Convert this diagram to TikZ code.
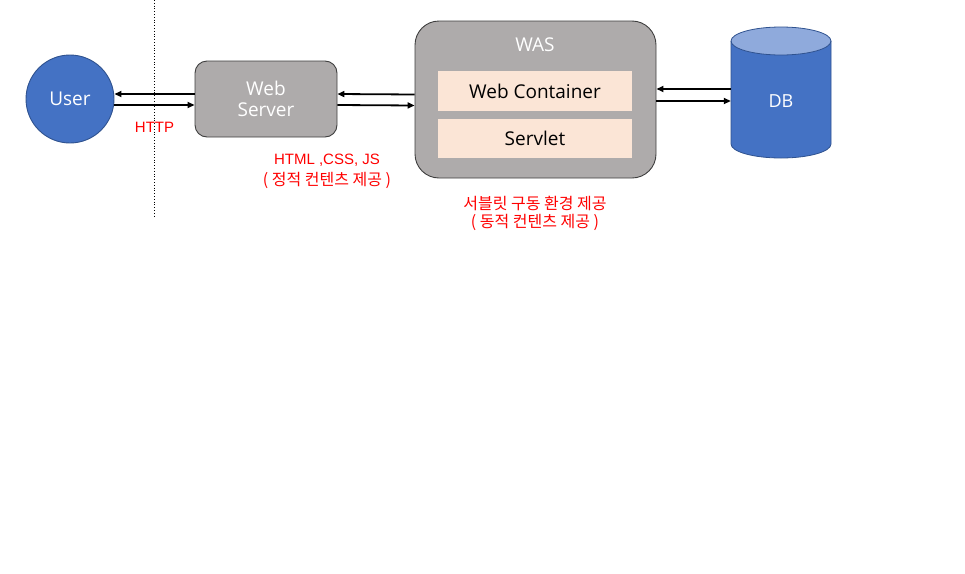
\documentclass[tikz,border=0pt]{standalone}
\usepackage{fontspec}
\setmainfont{Open Sans}
\newfontfamily\krfont{Noto Sans CJK KR}
\newfontfamily\labfont{Liberation Sans}
\usetikzlibrary{arrows.meta}
\definecolor{userblue}{HTML}{4472C4}
\definecolor{userline}{HTML}{2F528F}
\definecolor{boxgray}{HTML}{AEABAB}
\definecolor{boxline}{HTML}{3F3F3F}
\definecolor{inner}{HTML}{FBE5D6}
\definecolor{dbtop}{HTML}{8FAADC}
\tikzset{
  srvbox/.style={draw=boxline,fill=boxgray,line width=0.9pt,text=white,font=\fontsize{19}{22}\selectfont,align=center},
  layer/.style={fill=inner,minimum width=194pt,font=\fontsize{19}{22}\selectfont},
  link/.style={line width=1.8pt,-{Triangle[length=7pt,width=6pt]}},
  note/.style={text=red,inner sep=0pt},
  notelat/.style={note,font=\labfont\fontsize{15}{18}\selectfont},
  noteko/.style={note,font=\krfont\fontsize{16}{19}\selectfont}
}
\begin{document}
\begin{tikzpicture}[x=1pt,y=-1pt]
        \useasboundingbox (0,0) rectangle (965,573);
        % user side
        \node[circle,draw=userline,fill=userblue,line width=0.9pt,minimum size=88pt,text=white,font=\fontsize{19}{22}\selectfont] (user) at (70,99) {User};
        \coordinate (cuttop) at (154,0);
        \coordinate (cutbot) at (154,217);
        \draw[dotted,line width=0.8pt] (cuttop) -- (cutbot);
        \node[notelat] (http) at (154.5,127) {HTTP};
        % web server
        \node[srvbox,rounded corners=12pt,minimum width=142pt,minimum height=76pt] (websrv) at (266,99) {Web\\[-1pt]Server};
        \node[notelat] (static) at (327,160) {HTML ,CSS, JS};
        \node[noteko] (staticko) at (327,180) {( 정적 컨텐츠 제공 )};
        % was
        \node[srvbox,rounded corners=24pt,minimum width=241pt,minimum height=157pt] (was) at (535.5,99.5) {};
        \node[text=white,font=\fontsize{19}{22}\selectfont] (wastitle) at (535,45) {WAS};
        \node[layer,minimum height=40pt] (wc) at (535,91) {Web Container};
        \node[layer,minimum height=39pt] (servlet) at (535,138.5) {Servlet};
        \node[noteko] (dynamic) at (535,203) {서블릿 구동 환경 제공};
        \node[noteko] (dynamicko) at (535,222) {( 동적 컨텐츠 제공 )};
        % db
        \node[minimum width=100pt,minimum height=131pt,inner sep=0pt] (db) at (781,92.5) {};
        \fill[userblue] (731,41) -- (731,144) arc[start angle=180,end angle=0,x radius=50,y radius=14] -- (831,41) -- cycle;
        \fill[dbtop] (781,41) ellipse[x radius=50,y radius=14];
        \draw[userline,line width=0.8pt] (731,41) -- (731,144) arc[start angle=180,end angle=0,x radius=50,y radius=14] -- (831,41);
        \draw[userline,line width=0.8pt] (781,41) ellipse[x radius=50,y radius=14];
        \node[text=white,font=\fontsize{18}{22}\selectfont] (dblabel) at (781,101) {DB};
        % connectors
        \draw[link] ([yshift=5pt]websrv.west) -- ([yshift=5pt]user.east);
        \draw[link] ([yshift=-6pt]user.east) -- ([yshift=-6pt]websrv.west);
        \draw[link] ([yshift=5pt]was.west) -- ([yshift=5pt]websrv.east);
        \draw[link] ([yshift=-6pt]websrv.east) -- ([yshift=-6pt]was.west);
        \draw[link] ([yshift=3.5pt]db.west) -- ([yshift=3.5pt]db.west -| was.east);
        \draw[link] ([yshift=-8.5pt]db.west -| was.east) -- ([yshift=-8.5pt]db.west);
\end{tikzpicture}
\end{document}
